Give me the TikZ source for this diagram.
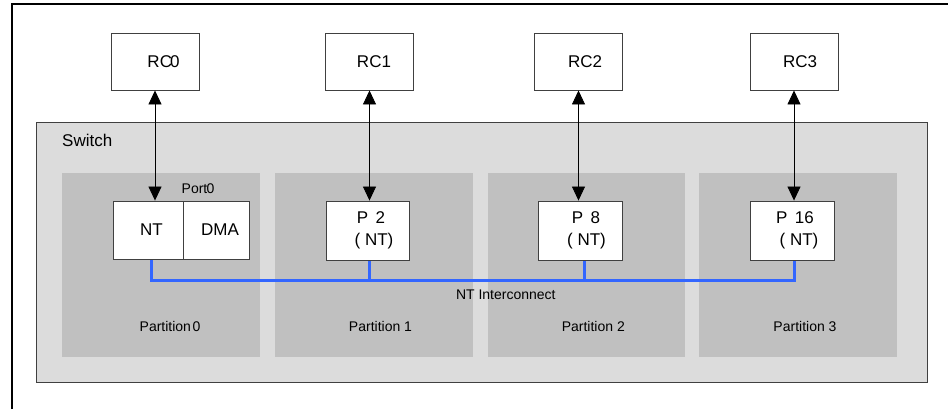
\documentclass[tikz,border=0pt]{standalone}
\usepackage{fontspec}
\setmainfont{Liberation Sans}
\usetikzlibrary{arrows.meta}
\definecolor{swfill}{RGB}{220,220,220}
\definecolor{ptfill}{RGB}{192,192,192}
\definecolor{edge}{RGB}{64,64,64}
\definecolor{busblue}{RGB}{51,102,255}
\begin{document}
\begin{tikzpicture}[x=1bp,y=-1bp,
  bigtxt/.style={font=\fontsize{17bp}{22bp}\selectfont},
  smalltxt/.style={font=\fontsize{14bp}{17bp}\selectfont},
  rcbox/.style={draw=edge, line width=0.9bp, fill=white, minimum width=88bp, minimum height=57bp, inner sep=0pt, bigtxt},
  portbox/.style={draw=edge, line width=0.9bp, fill=white, minimum height=58bp, inner sep=0pt, bigtxt, align=center},
  partbox/.style={fill=ptfill, draw=none, minimum width=198bp, minimum height=184bp, inner sep=0pt},
  dbl/.style={{Triangle[length=14bp,width=13bp]}-{Triangle[length=14bp,width=13bp]}, line width=0.8bp, black},
  bus/.style={busblue, line width=3bp}
]
\useasboundingbox (0,0) rectangle (948,409);
% outer frame (top and left visible)
\draw[line width=1.8bp] (12,409) -- (12,4) -- (948,4);

% switch
\node[draw=edge, fill=swfill, line width=1bp, minimum width=890bp, minimum height=260bp, inner sep=0pt] (sw) at (482,252) {};
\node[bigtxt, anchor=west, inner sep=0pt] (swl) at (62,140) {Switch};

% partitions
\node[partbox] (pt0) at (161,265) {};
\node[partbox] (pt1) at (374,265) {};
\node[partbox, minimum width=197bp] (pt2) at (586.5,265) {};
\node[partbox] (pt3) at (798,265) {};
\node[smalltxt, inner sep=0pt] (pl0) at (170,326.5) {Partition\kern1.5bp 0};
\node[smalltxt, inner sep=0pt] (pl1) at (380.5,326.5) {Partition 1};
\node[smalltxt, inner sep=0pt] (pl2) at (593.3,326.5) {Partition 2};
\node[smalltxt, inner sep=0pt] (pl3) at (805,326.5) {Partition 3};

% RC boxes
\node[rcbox] (rc0) at (155,61.5) {\hspace*{17bp}RC\kern-2bp 0};
\node[rcbox] (rc1) at (369.5,61.5) {\hspace*{9bp}RC1};
\node[rcbox] (rc2) at (578.5,61.5) {\hspace*{13bp}RC2};
\node[rcbox] (rc3) at (794,61.5) {\hspace*{12bp}RC3};

% port boxes
\node[portbox, minimum width=70bp] (nt) at (148,230) {\hspace*{7bp}NT};
\node[portbox, minimum width=66bp] (dma) at (216,230) {\hspace*{8bp}DMA};
\node[smalltxt, inner sep=0pt] (port0) at (198,188.5) {Port\kern-0.8bp 0};
\node[portbox, minimum width=83bp, minimum height=59bp] (p2) at (367.5,230.5) {\hspace*{7bp}P\ \,2\\\hspace*{13bp}( NT)};
\node[portbox, minimum width=84bp, minimum height=59bp] (p8) at (580,230.5) {\hspace*{12bp}P\ \,8\\\hspace*{13bp}( NT)};
\node[portbox, minimum width=84bp, minimum height=59bp] (p16) at (792,230.5) {\hspace*{6bp}P\ \,16\\\hspace*{14bp}( NT)};

% arrows
\draw[dbl] (rc0.south) -- (rc0.south |- nt.north);
\draw[dbl] (rc1.south) -- (rc1.south |- p2.north);
\draw[dbl] (rc2.south) -- (rc2.south |- p8.north);
\draw[dbl] (rc3.south) -- (rc3.south |- p16.north);

% interconnect
\coordinate (busy) at (0,280);
\draw[bus] ([xshift=3bp,yshift=-1bp]nt.south) -- ([xshift=3bp]nt.south |- busy) -- ([xshift=2bp]p16.south |- busy) -- ([xshift=2bp,yshift=-1bp]p16.south);
\draw[bus] ([xshift=1.5bp,yshift=-1bp]p2.south) -- ([xshift=1.5bp]p2.south |- busy);
\draw[bus] ([xshift=4bp,yshift=-1bp]p8.south) -- ([xshift=4bp]p8.south |- busy);
\node[smalltxt, inner sep=0pt] (ntic) at (505.8,294.5) {NT Interconnect};
\end{tikzpicture}
\end{document}
